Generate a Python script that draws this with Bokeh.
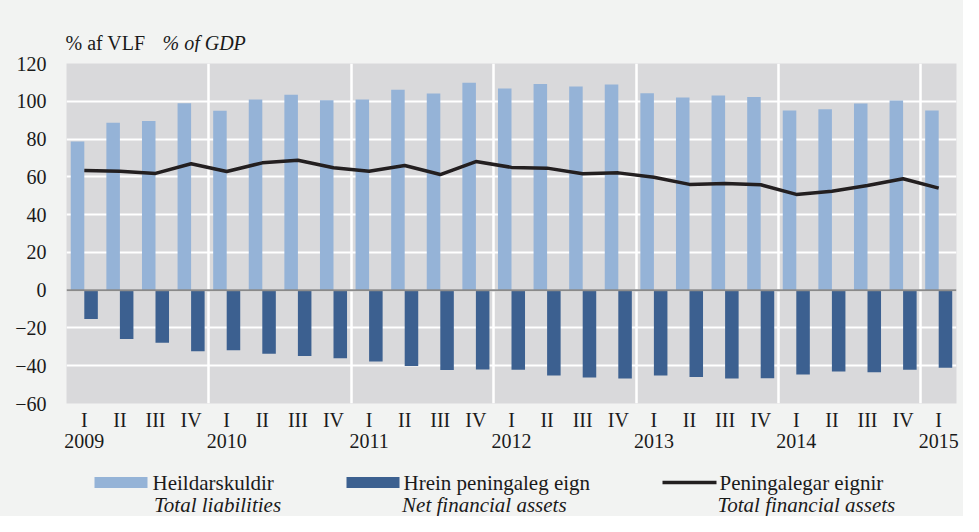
import numpy as np
from bokeh.plotting import figure
from bokeh.models import LinearAxis, FixedTicker, SingleIntervalTicker, Grid, Span
from bokeh.layouts import column
from bokeh.core.properties import value
from bokeh.embed import file_html
from bokeh.resources import INLINE

# ---- data ----
quarters = ["I", "II", "III", "IV"] * 6 + ["I"]
years = ["2009", "2010", "2011", "2012", "2013", "2014", "2015"]
total_liabilities = [78.7, 88.6, 89.6, 99.0, 95.0, 101.0, 103.4, 100.6,
                     101.0, 106.1, 104.1, 109.8, 106.8, 109.2, 107.8, 108.9,
                     104.3, 102.0, 103.1, 102.2, 95.1, 95.8, 98.8, 100.4, 95.1]
net_financial_assets = [-15.2, -25.9, -27.8, -32.3, -31.8, -33.7, -34.9, -36.0,
                        -37.7, -40.2, -42.3, -42.0, -42.1, -45.2, -46.2, -46.7,
                        -45.2, -46.0, -46.7, -46.6, -44.6, -43.0, -43.4, -42.1, -41.1]
total_financial_assets = [63.4, 63.0, 61.8, 66.9, 62.8, 67.4, 68.8, 64.8,
                          63.0, 66.0, 61.2, 68.1, 65.0, 64.6, 61.6, 62.1,
                          59.8, 56.0, 56.5, 55.8, 50.7, 52.4, 55.4, 59.0, 54.0]
legend_is = ["Heildarskuldir", "Hrein peningaleg eign", "Peningalegar eignir"]
legend_en = ["Total liabilities", "Net financial assets", "Total financial assets"]
title_is = "% af VLF"
title_en = "% of GDP"

# ---- styles ----
LIGHT = "#95b3d7"
DARK = "#3c6090"
LINE = "#231f20"
FONT = "Liberation Serif"
TXT = "#1a1a1a"
PAGE = "#f2f3f2"
W = 963

n = len(quarters)
xs = np.arange(n) + 0.5
year_starts = [i for i, q in enumerate(quarters) if q == "I"]


def strip(h):
    f = figure(width=W, height=h, x_range=(0, W), y_range=(h, 0),
               x_axis_type=None, y_axis_type=None, output_backend="svg",
               toolbar_location=None, min_border=0, min_border_left=0,
               min_border_right=0, min_border_top=0, min_border_bottom=0,
               background_fill_color=PAGE, border_fill_color=PAGE,
               outline_line_color=None, styles={"background-color": PAGE})
    try:
        f.frame_align = False
    except Exception:
        pass
    return f


# ---- title strip ----
T = strip(52)
T.text(x=[65], y=[42], text=[title_is], text_font=value(FONT), text_font_size="20px",
       text_color=TXT, text_baseline="middle")
T.text(x=[162], y=[42], text=[title_en], text_font=value(FONT), text_font_size="20px",
       text_font_style="italic", text_color=TXT, text_baseline="middle")

# ---- main chart ----
M = figure(width=W, height=406, x_range=(0, n), y_range=(-60, 120),
           x_axis_type=None, output_backend="svg", toolbar_location=None,
           min_border_left=66, min_border_right=7, min_border_top=11,
           min_border_bottom=55,
           background_fill_color="#d9d9db", border_fill_color=PAGE,
           outline_line_color=None, styles={"background-color": PAGE})
try:
    M.frame_align = False
except Exception:
    pass

M.yaxis.ticker = SingleIntervalTicker(interval=20, num_minor_ticks=0)
M.yaxis.axis_line_color = None
M.yaxis.major_tick_line_color = None
M.yaxis.minor_tick_line_color = None
M.yaxis.major_tick_out = 0
M.yaxis.major_tick_in = 0
M.yaxis.major_label_standoff = 20
M.yaxis.major_label_text_font = FONT
M.yaxis.major_label_text_font_size = "20px"
M.yaxis.major_label_text_color = TXT

M.ygrid.ticker = SingleIntervalTicker(interval=20, num_minor_ticks=0)
M.ygrid.grid_line_color = "white"
M.ygrid.grid_line_width = 2

M.add_layout(Grid(dimension=0, ticker=FixedTicker(ticks=[i for i in year_starts if i > 0]),
                  grid_line_color="white", grid_line_width=2.5))

ax_q = LinearAxis(ticker=FixedTicker(ticks=list(xs)),
                  major_label_overrides={float(x): q for x, q in zip(xs, quarters)})
ax_y = LinearAxis(ticker=FixedTicker(ticks=[float(xs[i]) for i in year_starts]),
                  major_label_overrides={float(xs[i]): y for i, y in zip(year_starts, years)})
for ax, st in ((ax_q, 5), (ax_y, 0)):
    ax.axis_line_color = None
    ax.major_tick_line_color = None
    ax.minor_tick_line_color = None
    ax.major_tick_out = 0
    ax.major_tick_in = 0
    ax.major_label_standoff = st
    ax.major_label_text_font = FONT
    ax.major_label_text_font_size = "20px"
    ax.major_label_text_color = TXT
    M.add_layout(ax, "below")

M.vbar(x=xs - 0.19, top=total_liabilities, width=0.38, fill_color=LIGHT, line_color=None)
M.vbar(x=xs + 0.19, top=net_financial_assets, width=0.38, fill_color=DARK, line_color=None)
M.add_layout(Span(location=0, dimension="width", line_color="#8a8a8a", line_width=2))
M.line(xs, total_financial_assets, line_color=LINE, line_width=3.5)

# ---- legend strip ----
B = strip(58)
row1, row2 = 24, 46
B.quad(left=[94, 346], right=[147, 399], top=[row1 - 5.5] * 2, bottom=[row1 + 5.5] * 2,
       fill_color=[LIGHT, DARK], line_color=None)
B.segment(x0=[662], y0=[row1], x1=[716], y1=[row1], line_color=LINE, line_width=3.5)
B.text(x=[152, 403, 719], y=[row1] * 3, text=legend_is, text_font=value(FONT),
       text_font_size="21px", text_color=TXT, text_baseline="middle")
B.text(x=[153.6, 401.6, 717], y=[row2] * 3, text=legend_en, text_font=value(FONT),
       text_font_size="21px", text_font_style="italic", text_color=TXT,
       text_baseline="middle")

layout = column(T, M, B, spacing=0, styles={"background-color": PAGE})
open("out.html", "w").write(file_html(layout, INLINE))
